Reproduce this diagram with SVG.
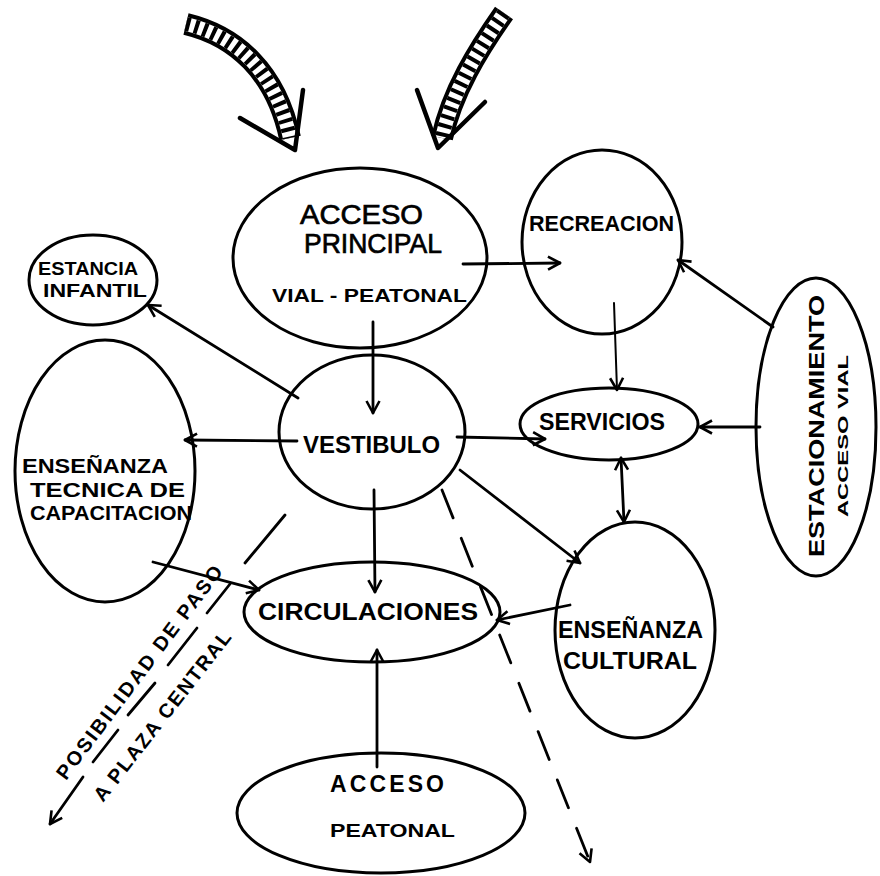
<svg xmlns="http://www.w3.org/2000/svg" width="880" height="876" viewBox="0 0 880 876">
<style>
.node ellipse{fill:none;stroke:#000;stroke-width:3}
text{font-family:"Liberation Sans",Arial,sans-serif;fill:#000;font-weight:bold}
.reg{font-weight:normal;stroke:#000;stroke-width:0.7}
.c line,.c path{stroke:#000;stroke-width:2.8;fill:none;stroke-linecap:round}
.bo{fill:none;stroke:#000;stroke-width:22}
.bi{fill:none;stroke:#fff;stroke-width:14}
.bh{fill:none;stroke:#000;stroke-width:14;stroke-dasharray:4 5}
.hd{fill:none;stroke:#000;stroke-width:4.5;stroke-linecap:round;stroke-linejoin:round}
</style>
<defs>
<marker id="a" markerWidth="18" markerHeight="18" refX="14" refY="8" orient="auto-start-reverse" markerUnits="userSpaceOnUse">
<path d="M2,1.5 L14,8 L2,14.5" fill="none" stroke="#000" stroke-width="2.6" stroke-linejoin="round"/>
</marker>
</defs>
<rect width="880" height="876" fill="#fff"/>

<g id="entry-arrows">
<path class="bo" d="M186,24 C236,36 276,72 290,138"/>
<path class="bi" d="M186,24 C236,36 276,72 290,138"/>
<path class="bh" d="M186,24 C236,36 276,72 290,138"/>
<path class="hd" d="M240,118 L295,150 L303,90"/>
<path class="bo" d="M504,13 C478,50 452,92 442,138"/>
<path class="bi" d="M504,13 C478,50 452,92 442,138"/>
<path class="bh" d="M504,13 C478,50 452,92 442,138"/>
<path class="hd" d="M417,90 L438,148 L485,102"/>
</g>

<g class="c" id="connectors">
<line x1="463" y1="264" x2="560" y2="263" marker-end="url(#a)"/>
<line x1="373" y1="322" x2="373" y2="413" marker-end="url(#a)"/>
<line x1="298" y1="398" x2="148" y2="305" marker-end="url(#a)"/>
<line x1="297" y1="441" x2="185" y2="440" marker-end="url(#a)"/>
<line x1="457" y1="437" x2="545" y2="439" marker-end="url(#a)"/>
<line x1="374" y1="490" x2="375" y2="592" marker-end="url(#a)"/>
<line x1="460" y1="470" x2="580" y2="563" marker-end="url(#a)"/>
<line x1="614" y1="303" x2="617" y2="390" marker-end="url(#a)" style="stroke-width:2"/>
<line x1="773" y1="327" x2="678" y2="260" marker-end="url(#a)"/>
<line x1="760" y1="427" x2="700" y2="427" marker-end="url(#a)"/>
<line x1="621" y1="458" x2="624" y2="522" marker-start="url(#a)" marker-end="url(#a)"/>
<line x1="570" y1="605" x2="497" y2="620" marker-end="url(#a)"/>
<line x1="377" y1="767" x2="377" y2="650" marker-end="url(#a)"/>
<line x1="153" y1="562" x2="259" y2="590" marker-end="url(#a)"/>
<line x1="442" y1="490" x2="590" y2="862" marker-end="url(#a)" style="stroke-dasharray:30 22"/>
<line x1="285" y1="515" x2="245" y2="563"/>
<line x1="207" y1="613" x2="230" y2="584"/>
<line x1="168" y1="665" x2="197" y2="628"/>
<line x1="128" y1="715" x2="155" y2="683"/>
<line x1="93" y1="762" x2="118" y2="730"/>
<line x1="83" y1="777" x2="50" y2="824" marker-end="url(#a)"/>
</g>

<g id="acceso-principal" class="node">
<ellipse cx="360" cy="258" rx="127" ry="90"/>
<text x="300" y="224" font-size="28" class="reg" textLength="123" lengthAdjust="spacingAndGlyphs">ACCESO</text>
<text x="304" y="253" font-size="28" class="reg" textLength="138" lengthAdjust="spacingAndGlyphs">PRINCIPAL</text>
<text x="272" y="302" font-size="18" textLength="195" lengthAdjust="spacingAndGlyphs">VIAL - PEATONAL</text>
</g>

<g id="recreacion" class="node">
<ellipse cx="602" cy="242" rx="80" ry="92"/>
<text x="529" y="231" font-size="22" textLength="145" lengthAdjust="spacingAndGlyphs">RECREACION</text>
</g>

<g id="estancia-infantil" class="node">
<ellipse cx="93" cy="280" rx="64" ry="45"/>
<text x="38" y="275" font-size="18" textLength="100" lengthAdjust="spacingAndGlyphs">ESTANCIA</text>
<text x="43" y="297" font-size="18" textLength="104" lengthAdjust="spacingAndGlyphs">INFANTIL</text>
</g>

<g id="ensenanza-tecnica" class="node">
<ellipse cx="105" cy="471" rx="90" ry="131"/>
<text x="22" y="473" font-size="21" textLength="146" lengthAdjust="spacingAndGlyphs">ENSEÑANZA</text>
<text x="30" y="497" font-size="21" textLength="155" lengthAdjust="spacingAndGlyphs">TECNICA DE</text>
<text x="30" y="520" font-size="21" textLength="162" lengthAdjust="spacingAndGlyphs">CAPACITACION</text>
</g>

<g id="vestibulo" class="node">
<ellipse cx="372" cy="432" rx="93" ry="77"/>
<text x="303" y="453" font-size="24" textLength="137" lengthAdjust="spacingAndGlyphs">VESTIBULO</text>
</g>

<g id="servicios" class="node">
<ellipse cx="609" cy="424" rx="89" ry="36"/>
<text x="539" y="430" font-size="23" textLength="126" lengthAdjust="spacingAndGlyphs">SERVICIOS</text>
</g>

<g id="circulaciones" class="node">
<ellipse cx="372" cy="612" rx="128" ry="50"/>
<text x="258" y="620" font-size="24" textLength="220" lengthAdjust="spacingAndGlyphs">CIRCULACIONES</text>
</g>

<g id="ensenanza-cultural" class="node">
<ellipse cx="635" cy="630" rx="80" ry="108"/>
<text x="558" y="638" font-size="23" textLength="145" lengthAdjust="spacingAndGlyphs">ENSEÑANZA</text>
<text x="563" y="669" font-size="23" textLength="134" lengthAdjust="spacingAndGlyphs">CULTURAL</text>
</g>

<g id="estacionamiento" class="node">
<ellipse cx="816" cy="427" rx="60" ry="149"/>
<text transform="translate(824,557) rotate(-90)" font-size="22" textLength="262" lengthAdjust="spacingAndGlyphs">ESTACIONAMIENTO</text>
<text transform="translate(848,517) rotate(-90)" font-size="14" textLength="162" lengthAdjust="spacingAndGlyphs">ACCESO VIAL</text>
</g>

<g id="acceso-peatonal" class="node">
<ellipse cx="381" cy="813" rx="144" ry="60"/>
<text x="330" y="792" font-size="23" textLength="114" lengthAdjust="spacing">ACCESO</text>
<text x="330" y="837" font-size="18" textLength="125" lengthAdjust="spacingAndGlyphs">PEATONAL</text>
</g>

<g id="paso-label">
<text transform="translate(66,781) rotate(-53)" font-size="20" textLength="262" lengthAdjust="spacing">POSIBILIDAD DE  PASO</text>
<text transform="translate(103,803) rotate(-52)" font-size="20" textLength="210" lengthAdjust="spacing">A  PLAZA  CENTRAL</text>
</g>
</svg>
